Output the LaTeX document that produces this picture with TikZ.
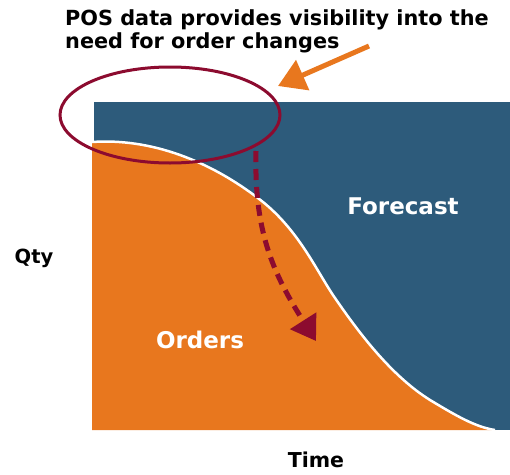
\documentclass[tikz,border=0pt]{standalone}
\usepackage{fontspec}
\setmainfont{DejaVu Sans}
\usetikzlibrary{arrows.meta}
\definecolor{fcblue}{HTML}{2D5B7B}
\definecolor{ordorange}{HTML}{E8771E}
\definecolor{posred}{HTML}{8C0B2F}
\tikzset{
  lbl/.style={font=\bfseries\fontsize{#1}{#1}\selectfont, inner sep=0pt},
  wlbl/.style={lbl=#1, text=white},
}
\begin{document}
\begin{tikzpicture}[x=1pt,y=-1pt]
\useasboundingbox (0,0) rectangle (510,474);
% forecast area
\fill[fcblue] (94,102) rectangle (510,430);
% orders area
\fill[ordorange] (92,430) -- (92,142)
  .. controls (150,138) and (210,160) .. (263,202)
  .. controls (300,232) and (317,272) .. (335,298)
  .. controls (357,330) and (390,375) .. (430,400)
  .. controls (455,415) and (475,427) .. (495,430) -- cycle;
\draw[white, line width=2.5pt] (92,142)
  .. controls (150,138) and (210,160) .. (263,202)
  .. controls (300,232) and (317,272) .. (335,298)
  .. controls (357,330) and (390,375) .. (430,400)
  .. controls (455,415) and (475,427) .. (495,430);
% highlight ellipse
\draw[posred, line width=3pt] (170,115) ellipse [x radius=110pt, y radius=48pt];
\coordinate (dstart) at (256,151);
\coordinate (dend) at (316,341);
\draw[posred, line width=5pt, dash pattern=on 11pt off 7pt,
  -{Triangle[length=24pt,width=30pt]}]
  (dstart) .. controls (254,230) and (272,272) .. (dend);
% orange callout arrow
\coordinate (astart) at (369,46);
\coordinate (aend) at (278,86);
\draw[ordorange, line width=5pt, -{Triangle[length=27pt,width=32pt]}] (astart) -- (aend);
% texts
\node[lbl=20.8, anchor=base west] (t1) at (65,25) {POS data provides visibility into the};
\node[lbl=20.8, anchor=base west] (t2) at (65,48) {need for order changes};
\node[lbl=19.5, anchor=base] (qty) at (34,263) {Qty};
\node[lbl=20.5, anchor=base] (time) at (316,467) {Time};
\node[wlbl=23, anchor=base] (orders) at (200,348) {Orders};
\node[wlbl=23, anchor=base] (fc) at (403,214) {Forecast};
\end{tikzpicture}
\end{document}
